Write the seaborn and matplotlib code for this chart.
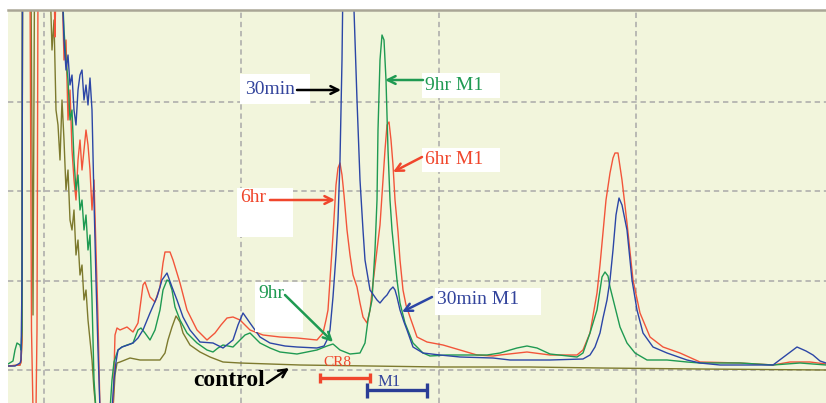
import numpy as np
import pandas as pd
import matplotlib
matplotlib.use("Agg")
import matplotlib.pyplot as plt
from matplotlib.patches import Rectangle
import seaborn as sns

# ---------------- data (retention time, detector signal) ----------------
t_30min = [0.08, 0.15, 0.20, 0.21, 0.22, 0.225, 0.62, 0.64, 0.66, 0.68, 0.70, 0.72, 0.74, 0.76, 0.78, 0.80,
           0.82, 0.84, 0.86, 0.88, 0.90, 0.92, 0.94, 0.96, 0.98, 1.00, 1.12, 1.14, 1.16, 1.18, 1.22, 1.28,
           1.33, 1.38, 1.43, 1.50, 1.57, 1.62, 1.67, 1.72, 1.77, 1.83, 1.90, 2.00, 2.13, 2.23, 2.33, 2.38,
           2.43, 2.50, 2.60, 2.70, 2.85, 2.97, 3.17, 3.24, 3.28, 3.30, 3.33, 3.36, 3.38, 3.40, 3.42, 3.43,
           3.53, 3.55, 3.57, 3.60, 3.63, 3.65, 3.70, 3.77, 3.80, 3.84, 3.87, 3.90, 3.93, 3.95, 3.97, 4.00,
           4.04, 4.07, 4.13, 4.23, 4.40, 4.60, 4.93, 5.10, 5.50, 5.83, 5.90, 5.95, 6.00, 6.03, 6.07, 6.10,
           6.13, 6.16, 6.19, 6.22, 6.27, 6.32, 6.37, 6.43, 6.53, 6.67, 6.87, 7.00, 7.20, 7.73, 7.85, 7.97,
           8.06, 8.13, 8.20, 8.26]
s_30min = [4, 4, 7, 10, 90, 390, 390, 330, 300, 315, 285, 295, 260, 245, 280, 295,
           300, 270, 285, 265, 292, 260, 170, 90, 20, -40, -40, -10, 8, 20, 23, 25,
           27, 32, 40, 57, 73, 90, 97, 83, 70, 53, 40, 28, 27, 22, 30, 45,
           57, 47, 33, 27, 24, 23, 22, 24, 32, 40, 73, 115, 150, 210, 310, 390,
           390, 330, 270, 190, 140, 110, 80, 70, 67, 72, 75, 80, 83, 80, 73, 60,
           48, 40, 23, 17, 15, 13, 12, 10, 10, 11, 15, 23, 37, 52, 70, 90,
           120, 155, 172, 165, 140, 90, 60, 37, 23, 17, 10, 7, 5, 5, 14, 23,
           19, 15, 9, 7]

t_6hr = [0.08, 0.20, 0.21, 0.22, 0.225, 0.30, 0.315, 0.33, 0.36, 0.37, 0.38, 0.54, 0.55, 0.56, 0.62, 0.64,
         0.66, 0.68, 0.70, 0.72, 0.74, 0.76, 0.78, 0.80, 0.82, 0.84, 0.86, 0.88, 0.90, 0.92, 0.94, 0.96,
         0.98, 1.00, 1.13, 1.15, 1.17, 1.20, 1.27, 1.33, 1.38, 1.41, 1.43, 1.45, 1.50, 1.55, 1.60, 1.63,
         1.65, 1.70, 1.73, 1.80, 1.87, 1.97, 2.07, 2.15, 2.21, 2.27, 2.33, 2.40, 2.50, 2.63, 2.80, 2.97,
         3.17, 3.23, 3.26, 3.28, 3.30, 3.33, 3.36, 3.38, 3.40, 3.42, 3.44, 3.47, 3.50, 3.53, 3.57, 3.60,
         3.63, 3.67, 3.70, 3.73, 3.77, 3.80, 3.83, 3.85, 3.87, 3.89, 3.91, 3.93, 3.95, 3.98, 4.00, 4.03,
         4.06, 4.10, 4.17, 4.27, 4.43, 4.60, 4.77, 4.93, 5.00, 5.27, 5.50, 5.77, 5.83, 5.90, 5.94, 5.97,
         6.00, 6.03, 6.06, 6.10, 6.13, 6.15, 6.18, 6.22, 6.27, 6.33, 6.40, 6.50, 6.63, 6.80, 7.00, 7.40,
         7.73, 7.90, 8.10, 8.26]
s_6hr = [4, 5, 8, 30, 390, 390, 40, -40, -40, 40, 390, 390, 333, 390, 390, 310,
         330, 250, 280, 220, 190, 170, 210, 230, 200, 220, 240, 225, 200, 160, 190, 120,
         50, -40, -40, 35, 42, 40, 43, 38, 47, 70, 85, 88, 73, 68, 83, 107,
         118, 118, 110, 87, 60, 40, 30, 37, 45, 52, 53, 50, 40, 35, 33, 32,
         30, 37, 50, 60, 90, 135, 185, 202, 207, 195, 175, 140, 115, 95, 83, 67,
         53, 47, 60, 87, 120, 145, 190, 220, 245, 248, 230, 205, 170, 138, 110, 80,
         65, 53, 33, 28, 25, 20, 15, 14, 15, 18, 15, 15, 20, 37, 60, 77,
         105, 137, 170, 197, 212, 217, 217, 190, 147, 90, 57, 33, 23, 17, 8, 7,
         5, 8, 8, 6]

t_9hr = [0.08, 0.13, 0.15, 0.17, 0.20, 0.21, 0.22, 0.225, 0.62, 0.64, 0.66, 0.68, 0.70, 0.72, 0.74, 0.76,
         0.78, 0.80, 0.82, 0.84, 0.86, 0.88, 0.90, 0.92, 0.94, 0.96, 1.10, 1.12, 1.14, 1.18, 1.22, 1.27,
         1.33, 1.36, 1.38, 1.41, 1.45, 1.50, 1.55, 1.60, 1.63, 1.67, 1.69, 1.72, 1.75, 1.80, 1.87, 1.97,
         2.07, 2.13, 2.18, 2.23, 2.33, 2.40, 2.45, 2.50, 2.55, 2.60, 2.70, 2.80, 2.97, 3.17, 3.27, 3.33,
         3.40, 3.50, 3.60, 3.65, 3.68, 3.72, 3.75, 3.77, 3.78, 3.80, 3.82, 3.84, 3.86, 3.88, 3.90, 3.92,
         3.95, 3.97, 4.00, 4.05, 4.13, 4.23, 4.30, 4.47, 4.87, 5.00, 5.17, 5.27, 5.37, 5.50, 5.77, 5.83,
         5.90, 5.97, 6.02, 6.05, 6.08, 6.10, 6.15, 6.20, 6.27, 6.35, 6.47, 6.67, 6.87, 7.00, 7.40, 7.73,
         8.00, 8.26]
s_9hr = [6, 9, 20, 27, 25, 20, 40, 390, 390, 340, 310, 290, 250, 260, 210, 180,
         195, 160, 170, 140, 155, 120, 135, 70, -10, -40, -40, -10, 8, 20, 23, 25,
         27, 35, 40, 42, 37, 30, 40, 60, 80, 90, 89, 80, 63, 50, 37, 27,
         20, 18, 22, 25, 23, 30, 35, 37, 32, 27, 22, 18, 16, 20, 24, 26,
         20, 16, 17, 27, 50, 70, 120, 170, 240, 310, 335, 330, 290, 220, 170, 140,
         110, 90, 67, 47, 27, 17, 14, 15, 15, 17, 22, 24, 22, 16, 13, 17,
         37, 60, 93, 98, 94, 83, 63, 43, 27, 17, 10, 10, 8, 7, 7, 5,
         7, 5]

t_control = [0.08, 0.20, 0.21, 0.22, 0.225, 0.31, 0.33, 0.345, 0.50, 0.52, 0.54, 0.56, 0.58, 0.60, 0.62, 0.64,
             0.66, 0.68, 0.70, 0.72, 0.74, 0.76, 0.78, 0.80, 0.82, 0.84, 0.86, 0.88, 0.90, 0.92, 0.94, 0.96,
             1.13, 1.15, 1.17, 1.20, 1.30, 1.40, 1.50, 1.60, 1.65, 1.68, 1.72, 1.76, 1.80, 1.83, 1.90, 2.00,
             2.10, 2.23, 2.40, 3.00, 3.70, 4.40, 5.30, 6.00, 7.00, 8.26]
s_control = [4, 5, 8, 30, 390, 390, 55, 390, 390, 320, 350, 260, 245, 210, 270, 230,
             180, 200, 150, 140, 160, 115, 130, 95, 105, 70, 80, 50, 30, 10, -20, -40,
             -40, -5, 7, 8, 12, 10, 10, 10, 17, 30, 43, 54, 48, 37, 25, 18,
             13, 8, 7, 5, 4, 3, 3, 2, 1, 0]

samples = ["control", "6hr", "9hr", "30min"]
colors = {"30min": "#2c46a6", "6hr": "#f2553a", "9hr": "#1f9a52", "control": "#7d7a2e"}

df = pd.concat([
    pd.DataFrame({"time": t_control, "signal": s_control, "sample": "control"}),
    pd.DataFrame({"time": t_6hr, "signal": s_6hr, "sample": "6hr"}),
    pd.DataFrame({"time": t_9hr, "signal": s_9hr, "sample": "9hr"}),
    pd.DataFrame({"time": t_30min, "signal": s_30min, "sample": "30min"}),
], ignore_index=True)

x_grid = [0.443, 2.41, 4.385, 6.357]
y_grid = [0, 89.5, 179, 268.5]

# ---------------- figure ----------------
sns.set_style("white")
plt.rcParams["font.family"] = ["Liberation Serif", "DejaVu Serif"]

fig = plt.figure(figsize=(8.26, 4.03), dpi=100, facecolor="white")
ax = fig.add_axes([8 / 826, 0, 818 / 826, 393 / 403])
ax.set_facecolor("#f2f5dc")

sns.lineplot(data=df, x="time", y="signal", hue="sample", hue_order=samples,
             palette=colors, estimator=None, sort=False, legend=False,
             linewidth=1.0, ax=ax)

ax.set_xlim(0.08, 8.26)
ax.set_ylim(-33, 360)
ax.set_xticks(x_grid)
ax.set_yticks(y_grid)
ax.tick_params(length=0, labelbottom=False, labelleft=False)
ax.set_xlabel("")
ax.set_ylabel("")
ax.set_axisbelow(True)
ax.grid(True, color="#a9a9a9", linestyle=(0, (3.5, 2.5)), linewidth=1.1)
for side in ["left", "right", "bottom"]:
    ax.spines[side].set_visible(False)
ax.spines["top"].set_color("#aaa696")
ax.spines["top"].set_linewidth(1.8)

# white label boxes (axes-relative placement)
def wbox(x0, y0, x1, y1):
    ax.add_patch(Rectangle((x0, y0), x1 - x0, y1 - y0, transform=ax.transData,
                           facecolor="white", edgecolor="none", zorder=3))

wbox(2.40, 266, 3.10, 296)    # 30min
wbox(4.22, 272, 5.00, 297)    # 9hr M1
wbox(4.22, 198, 5.00, 222)    # 6hr M1
wbox(2.37, 133, 2.93, 182)    # 6hr
wbox(2.55, 38, 3.03, 88)      # 9hr
wbox(4.35, 55, 5.41, 82)      # 30min M1

fs = 14
ax.text(2.45, 281, "30min", color="#33449c", fontsize=fs, ha="left", va="center", zorder=4)
ax.text(4.25, 285, "9hr M1", color="#1f9a52", fontsize=fs, ha="left", va="center", zorder=4)
ax.text(4.25, 210, "6hr M1", color="#f0462c", fontsize=fs, ha="left", va="center", zorder=4)
ax.text(2.40, 172, "6hr", color="#f0462c", fontsize=fs, ha="left", va="center", zorder=4)
ax.text(2.58, 77, "9hr", color="#1f9a52", fontsize=fs, ha="left", va="center", zorder=4)
ax.text(4.37, 70, "30min M1", color="#33449c", fontsize=fs, ha="left", va="center", zorder=4)
ax.text(2.29, -11, "control", color="black", fontsize=17, fontweight="bold",
        ha="center", va="center", zorder=4)
ax.text(3.37, 7, "CR8", color="#f0462c", fontsize=11, ha="center", va="center", zorder=4)
ax.text(3.89, -12, "M1", color="#33449c", fontsize=12, ha="center", va="center", zorder=4)

def arrow(x0, y0, x1, y1, color):
    ax.annotate("", xy=(x1, y1), xytext=(x0, y0),
                arrowprops=dict(arrowstyle="->", color=color, lw=1.8,
                                mutation_scale=14, shrinkA=0, shrinkB=0), zorder=5)

arrow(2.97, 280, 3.41, 280, "black")
arrow(4.23, 290, 3.85, 290, "#1f9a52")
arrow(4.22, 213, 3.93, 198, "#f0462c")
arrow(2.70, 170, 3.35, 170, "#f0462c")
arrow(2.85, 75, 3.33, 28, "#1f9a52")
arrow(4.32, 73, 4.02, 58, "#2c46a6")
arrow(2.67, -13, 2.89, 2, "black")

# fraction collection bars
ax.errorbar(3.45, -8, xerr=0.25, color="#f0462c", elinewidth=2.4, capsize=3.6,
            capthick=2.4, zorder=5)
ax.errorbar(3.97, -20, xerr=0.30, color="#2a3d96", elinewidth=2.4, capsize=5.4,
            capthick=2.4, zorder=5)

fig.savefig("out.png", dpi=100, facecolor="white")
